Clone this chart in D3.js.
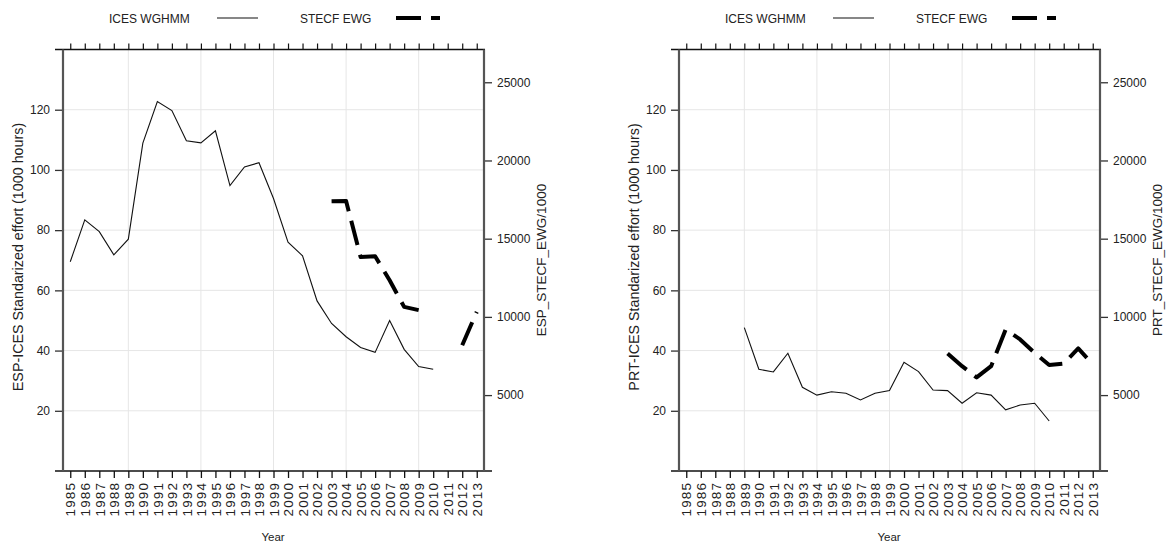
<!DOCTYPE html>
<html>
<head>
<meta charset="utf-8">
<script src="https://cdn.jsdelivr.net/npm/d3@7"></script>
<style>
  html, body { margin: 0; padding: 0; background: #fff; }
  svg { display: block; font-family: "Liberation Sans", Arial, sans-serif; }
</style>
</head>
<body>
<svg id="chart" width="1168" height="547"></svg>
<script>
// ---------- data ----------
const years = [1985,1986,1987,1988,1989,1990,1991,1992,1993,1994,1995,1996,1997,1998,1999,
               2000,2001,2002,2003,2004,2005,2006,2007,2008,2009,2010,2011,2012,2013];
const leftTicks = [20, 40, 60, 80, 100, 120];
const rightTicks = [5000, 10000, 15000, 20000, 25000];
const gridYears = [1989, 1994, 1999, 2004, 2009];

// ESP, ICES WGHMM (1000 hours), 1985-2013
const espIces = [69.5, 83.4, 79.5, 71.8, 77.0, 108.9, 122.7, 119.7, 109.7, 109.0, 113.0, 94.8, 101.0, 102.4, 90.5,
                 76.0, 71.5, 56.5, 49.0, 44.6, 41.0, 39.4, 50.0, 40.4, 34.7, 33.8, null, null, null];
// ESP, STECF EWG /1000, 1985-2013
const espStecf = [null, null, null, null, null, null, null, null, null, null, null, null, null, null, null,
                  null, null, null, 17390, 17410, 13830, 13880, 12340, 10640, 10430, null, null, 8190, 10320];
// PRT, ICES WGHMM (1000 hours), 1985-2013
const prtIces = [null, null, null, null, 47.6, 33.8, 32.9, 39.1, 27.8, 25.2, 26.3, 25.8, 23.6, 25.8, 26.7,
                 36.1, 33.0, 26.9, 26.7, 22.5, 26.0, 25.2, 20.3, 21.9, 22.5, 16.6, null, null, null];
// PRT, STECF EWG /1000, 1985-2013
const prtStecf = [null, null, null, null, null, null, null, null, null, null, null, null, null, null, null,
                  null, null, null, 7660, 6850, 6130, 6850, 9195, 8560, 7700, 6920, 7020, 7980, 6980];

const panels = [
  { offset: 0,   ices: espIces, stecf: espStecf,
    yLabel: "ESP-ICES Standarized effort (1000 hours)", y2Label: "ESP_STECF_EWG/1000" },
  { offset: 616, ices: prtIces, stecf: prtStecf,
    yLabel: "PRT-ICES Standarized effort (1000 hours)", y2Label: "PRT_STECF_EWG/1000" }
];

// ---------- layout ----------
const svg = d3.select("#chart");
const TOP = 49.5, BOTTOM = 471;
const textCol = "#222";
const dashPattern = "25,10";

panels.forEach(p => {
  const g = svg.append("g").attr("transform", `translate(${p.offset},0)`);
  const x = d3.scaleLinear().domain([1984.5, 2013.5]).range([63, 484]);
  const y = d3.scaleLinear().domain([0, 140]).range([BOTTOM, TOP]);
  const y2 = d3.scaleLinear().domain([147, 27095]).range([BOTTOM, TOP]);
  const x0 = x.range()[0], x1 = x.range()[1];

  // grid
  g.append("g").selectAll("line").data(leftTicks).join("line")
    .attr("x1", x0).attr("x2", x1).attr("y1", d => y(d)).attr("y2", d => y(d))
    .attr("stroke", "#e6e6e6").attr("stroke-width", 1);
  g.append("g").selectAll("line").data(gridYears).join("line")
    .attr("x1", d => x(d)).attr("x2", d => x(d)).attr("y1", TOP).attr("y2", BOTTOM)
    .attr("stroke", "#e6e6e6").attr("stroke-width", 1);

  // bottom axis
  const bottomAxis = d3.axisBottom(x).tickValues(years).tickFormat(d3.format("d"))
    .tickSize(7).tickSizeOuter(0);
  const bx = g.append("g").attr("transform", `translate(0,${BOTTOM})`).call(bottomAxis);
  bx.select(".domain").remove();
  bx.selectAll(".tick line").attr("stroke", "#111").attr("stroke-width", 1.3);
  bx.selectAll(".tick text")
    .attr("transform", "rotate(-90)")
    .attr("x", -11).attr("y", 0).attr("dy", "0.35em")
    .attr("text-anchor", "end")
    .attr("font-size", 13.5).attr("letter-spacing", 1.1).attr("fill", textCol);

  // top axis
  const topAxis = d3.axisTop(x).tickValues(years).tickFormat("").tickSize(6).tickSizeOuter(0);
  const tx = g.append("g").attr("transform", `translate(0,${TOP})`).call(topAxis);
  tx.select(".domain").remove();
  tx.selectAll(".tick line").attr("stroke", "#111").attr("stroke-width", 1.2);

  // horizontal axis lines (extended)
  g.append("line").attr("x1", 55).attr("x2", 492).attr("y1", BOTTOM).attr("y2", BOTTOM)
    .attr("stroke", "#111").attr("stroke-width", 1.5);
  g.append("line").attr("x1", 55).attr("x2", 485).attr("y1", TOP).attr("y2", TOP)
    .attr("stroke", "#111").attr("stroke-width", 1.5);

  // left axis
  const leftAxis = d3.axisLeft(y).tickValues(leftTicks).tickSize(8).tickSizeOuter(0);
  const lx = g.append("g").attr("transform", `translate(${x0},0)`).call(leftAxis);
  lx.select(".domain").remove();
  lx.selectAll(".tick line").attr("stroke", "#333").attr("stroke-width", 1.3);
  lx.selectAll(".tick text").attr("x", -13).attr("font-size", 12).attr("fill", textCol);
  g.append("line").attr("x1", x0).attr("x2", x0).attr("y1", TOP).attr("y2", BOTTOM)
    .attr("stroke", "#555").attr("stroke-width", 2.2);

  // right axis
  const rightAxis = d3.axisRight(y2).tickValues(rightTicks).tickFormat(d3.format("d"))
    .tickSize(8).tickSizeOuter(0);
  const rx = g.append("g").attr("transform", `translate(${x1},0)`).call(rightAxis);
  rx.select(".domain").remove();
  rx.selectAll(".tick line").attr("stroke", "#333").attr("stroke-width", 1.3);
  rx.selectAll(".tick text").attr("x", 13).attr("font-size", 12).attr("fill", textCol);
  g.append("line").attr("x1", x1).attr("x2", x1).attr("y1", TOP).attr("y2", BOTTOM)
    .attr("stroke", "#555").attr("stroke-width", 2.2);

  // series
  const iceLine = d3.line().defined(d => d[1] != null).x(d => x(d[0])).y(d => y(d[1]));
  const stecfLine = d3.line().defined(d => d[1] != null).x(d => x(d[0])).y(d => y2(d[1]));
  g.append("path").datum(years.map((yr, i) => [yr, p.ices[i]]))
    .attr("d", iceLine).attr("fill", "none").attr("stroke", "#111").attr("stroke-width", 1.1);
  g.append("path").datum(years.map((yr, i) => [yr, p.stecf[i]]))
    .attr("d", stecfLine).attr("fill", "none").attr("stroke", "#000").attr("stroke-width", 4)
    .attr("stroke-dasharray", dashPattern).attr("stroke-linejoin", "round");

  // axis titles
  g.append("text").attr("transform", `translate(18,257) rotate(-90)`)
    .attr("text-anchor", "middle").attr("dy", "0.35em")
    .attr("font-size", 14.3).attr("fill", textCol).text(p.yLabel);
  g.append("text").attr("transform", `translate(541,260) rotate(-90)`)
    .attr("text-anchor", "middle").attr("dy", "0.35em")
    .attr("font-size", 13.5).attr("fill", textCol).text(p.y2Label);
  g.append("text").attr("x", 273).attr("y", 537).attr("text-anchor", "middle").attr("dy", "0.35em")
    .attr("font-size", 11.5).attr("fill", textCol).text("Year");

  // legend
  g.append("text").attr("x", 109).attr("y", 19).attr("dy", "0.35em")
    .attr("font-size", 12).attr("fill", textCol).text("ICES WGHMM");
  g.append("line").attr("x1", 217).attr("x2", 258).attr("y1", 18).attr("y2", 18)
    .attr("stroke", "#111").attr("stroke-width", 1.1);
  g.append("text").attr("x", 300).attr("y", 19).attr("dy", "0.35em")
    .attr("font-size", 12).attr("fill", textCol).text("STECF EWG");
  g.append("line").attr("x1", 396).attr("x2", 440).attr("y1", 18).attr("y2", 18)
    .attr("stroke", "#000").attr("stroke-width", 4).attr("stroke-dasharray", dashPattern);
});
</script>
</body>
</html>
